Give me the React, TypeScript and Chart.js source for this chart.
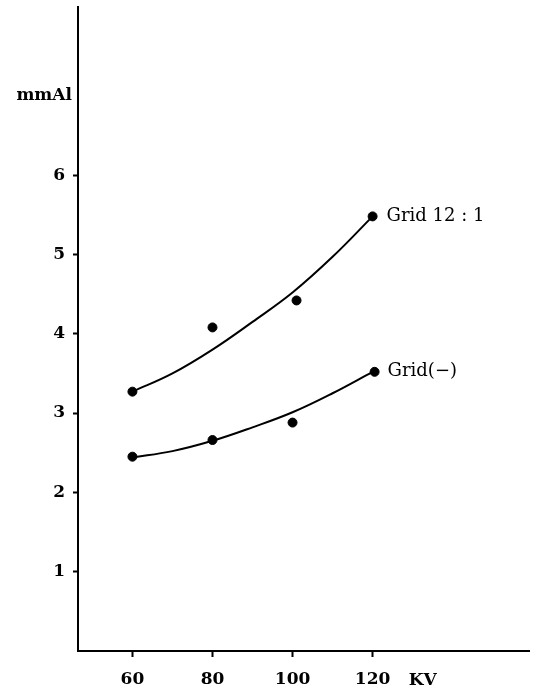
import React, { useEffect, useRef } from "react";
import { Chart, registerables } from "chart.js";

Chart.register(...registerables);

// Measured points
const pointKV12 = [60, 80, 101, 120];
const pointVal12 = [3.27, 4.08, 4.42, 5.48];
const pointKVNone = [60, 80, 100, 120.5];
const pointValNone = [2.45, 2.66, 2.88, 3.52];

// Fitted curves
const curveKV = [60, 70, 80, 90, 100, 110, 120];
const curveVal12 = [3.27, 3.5, 3.8, 4.15, 4.52, 4.97, 5.48];
const curveValNone = [2.44, 2.52, 2.65, 2.82, 3.01, 3.25, 3.52];

// Ticks & labels
const xTicks = [60, 80, 100, 120];
const yTicks = [1, 2, 3, 4, 5, 6];
const seriesLabels = ["Grid 12 : 1", "Grid(−)"];
const yTitle = "mmAl";
const xTitle = "KV";

const FONT = "'DejaVu Serif', 'Liberation Serif', serif";

const zip = (xs: number[], ys: number[]) => xs.map((x, i) => ({ x, y: ys[i] }));

export default function App() {
  const ref = useRef<HTMLCanvasElement | null>(null);

  useEffect(() => {
    document.body.style.margin = "0";
    const canvas = ref.current!;
    const textPlugin = {
      id: "texts",
      afterDraw(chart: any) {
        const ctx = chart.ctx;
        const xs = chart.scales.x;
        const ys = chart.scales.y;
        ctx.save();
        ctx.fillStyle = "#000";
        ctx.textBaseline = "middle";
        // series labels
        ctx.font = `18px ${FONT}`;
        ctx.textAlign = "left";
        const last12 = pointKV12.length - 1;
        ctx.fillText(
          seriesLabels[0],
          xs.getPixelForValue(pointKV12[last12]) + 14,
          ys.getPixelForValue(pointVal12[last12])
        );
        const lastN = pointKVNone.length - 1;
        ctx.fillText(
          seriesLabels[1],
          xs.getPixelForValue(pointKVNone[lastN]) + 13,
          ys.getPixelForValue(pointValNone[lastN])
        );
        // axis titles
        ctx.font = `bold 17px ${FONT}`;
        ctx.textAlign = "right";
        ctx.fillText(yTitle, xs.left - 6, ys.getPixelForValue(7));
        ctx.textAlign = "center";
        ctx.fillText(xTitle, xs.getPixelForValue(132.5), 681);
        ctx.restore();
      },
    };

    const chart = new Chart(canvas, {
      type: "scatter",
      data: {
        datasets: [
          {
            data: zip(curveKV, curveVal12),
            showLine: true,
            borderColor: "#000",
            borderWidth: 2,
            pointRadius: 0,
            tension: 0.4,
          },
          {
            data: zip(curveKV, curveValNone),
            showLine: true,
            borderColor: "#000",
            borderWidth: 2,
            pointRadius: 0,
            tension: 0.4,
          },
          {
            data: zip(pointKV12, pointVal12),
            backgroundColor: "#000",
            borderColor: "#000",
            pointRadius: 4.5,
          },
          {
            data: zip(pointKVNone, pointValNone),
            backgroundColor: "#000",
            borderColor: "#000",
            pointRadius: 4.5,
          },
        ],
      } as any,
      options: {
        animation: false,
        responsive: false,
        layout: { padding: { top: 7, right: 2, left: 0, bottom: 0 } },
        plugins: {
          legend: { display: false },
          tooltip: { enabled: false },
          title: { display: false },
        },
        scales: {
          x: {
            type: "linear",
            min: 46.4,
            max: 159.2,
            afterBuildTicks: (s: any) => {
              s.ticks = xTicks.map((v) => ({ value: v }));
            },
            afterFit: (s: any) => {
              s.height = 40;
              s.paddingLeft = 0;
              s.paddingRight = 0;
            },
            grid: {
              drawOnChartArea: false,
              drawTicks: true,
              tickLength: 6,
              tickColor: "#000",
              tickWidth: 2,
            },
            border: { display: true, color: "#000", width: 2 },
            ticks: {
              color: "#000",
              font: { family: FONT, size: 17, weight: "bold" },
              padding: 12,
              maxRotation: 0,
              callback: (v: any) => String(v),
            },
          },
          y: {
            type: "linear",
            min: 0,
            max: 8.12,
            afterBuildTicks: (s: any) => {
              s.ticks = yTicks.map((v) => ({ value: v }));
            },
            afterFit: (s: any) => {
              s.width = 78;
              s.paddingTop = 0;
              s.paddingBottom = 0;
            },
            grid: {
              drawOnChartArea: false,
              drawTicks: true,
              tickLength: 5,
              tickColor: "#000",
              tickWidth: 2,
            },
            border: { display: true, color: "#000", width: 2 },
            ticks: {
              color: "#000",
              font: { family: FONT, size: 17, weight: "bold" },
              padding: 8,
              callback: (v: any) => String(v),
            },
          },
        },
      } as any,
      plugins: [textPlugin],
    });
    return () => chart.destroy();
  }, []);

  return (
    <div style={{ position: "relative", width: 535, height: 691, background: "#fff" }}>
      <canvas ref={ref} width={535} height={691} style={{ display: "block" }} />
    </div>
  );
}
